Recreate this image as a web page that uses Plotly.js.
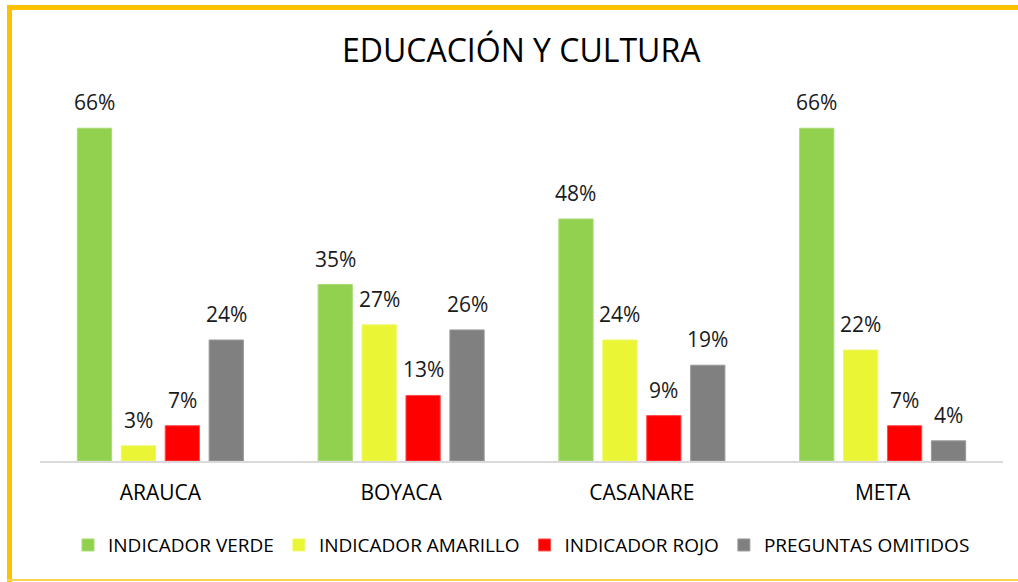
<!DOCTYPE html>
<html>
<head>
<meta charset="utf-8">
<script src="https://cdn.plot.ly/plotly-3.0.1.min.js"></script>
<style>
  html, body { margin: 0; padding: 0; background: #fff; }
  #wrap { position: relative; width: 1018px; height: 582px; }
  #chart { width: 1018px; height: 582px; }
  .bl { position: absolute; left: 7px; top: 5px; width: 5px; height: 577px; background: #FFC000; pointer-events: none; }
  .bt { position: absolute; left: 7px; top: 5px; width: 1011px; height: 5px; background: #FFC000; pointer-events: none; }
  .bb { position: absolute; left: 7px; top: 579px; width: 1011px; height: 2px; background: #FFD24D; pointer-events: none; }
</style>
</head>
<body>
<div id="wrap">
  <div id="chart"></div>
  <div class="bl"></div><div class="bt"></div><div class="bb"></div>
</div>
<script>
const categories = ["ARAUCA", "BOYACA", "CASANARE", "META"];
const seriesNames = ["INDICADOR VERDE", "INDICADOR AMARILLO", "INDICADOR ROJO", "PREGUNTAS OMITIDOS"];
const verde = [66, 35, 48, 66];
const amarillo = [3, 27, 24, 22];
const rojo = [7, 13, 9, 7];
const omitidos = [24, 26, 19, 4];
const colors = ["#92D050", "#EAF535", "#FF0000", "#808080"];
const lineColors = ["#A9DC74", "#EEF76A", "#FF4D4D", "#9A9A9A"];

const FONT = "'Open Sans', sans-serif";
const BARGAP = 0.27;
const allSeries = [verde, amarillo, rojo, omitidos];
const traces = allSeries.map((vals, i) => ({
  type: "bar",
  name: seriesNames[i],
  x: categories,
  y: vals,
  marker: { color: colors[i], line: { color: lineColors[i], width: 1 } },
  hoverinfo: "x+y+name"
}));

// data labels placed above each bar (library category axis positions + offset inside group)
const slot = (1 - BARGAP) / allSeries.length;
const annotations = [];
allSeries.forEach((vals, i) => {
  vals.forEach((v, j) => {
    annotations.push({
      xref: "x", yref: "y",
      x: j + (i - (allSeries.length - 1) / 2) * slot,
      y: v,
      text: v + "%",
      showarrow: false,
      yanchor: "middle",
      yshift: 26,
      font: { family: FONT, size: 21, color: "#1a1a1a" }
    });
  });
});

const layout = {
  width: 1018, height: 582,
  paper_bgcolor: "#ffffff", plot_bgcolor: "#ffffff",
  margin: { l: 40, r: 15, t: 100, b: 121 },
  title: { text: "EDUCACIÓN Y CULTURA", font: { family: FONT, size: 32, color: "#000000" }, x: 0.512, xanchor: "center", y: 0.912, yanchor: "middle" },
  barmode: "group",
  bargap: BARGAP,
  bargroupgap: 0.22,
  xaxis: {
    type: "category",
    showline: true, linecolor: "#D9D9D9", linewidth: 2,
    ticks: "", tickfont: { family: FONT, size: 21, color: "#000000" },
    ticklabelstandoff: 12,
    showgrid: false, zeroline: false, fixedrange: true
  },
  yaxis: {
    range: [0, 71.6], visible: false, showgrid: false, zeroline: false, fixedrange: true
  },
  annotations: annotations,
  showlegend: true,
  legend: {
    orientation: "h", x: 0.5, xanchor: "center", y: -0.233, yanchor: "middle",
    font: { family: FONT, size: 19, color: "#000000" },
    itemwidth: 30, traceorder: "normal"
  },
  font: { family: FONT }
};

Plotly.newPlot("chart", traces, layout, { displayModeBar: false, staticPlot: true });
</script>
</body>
</html>
